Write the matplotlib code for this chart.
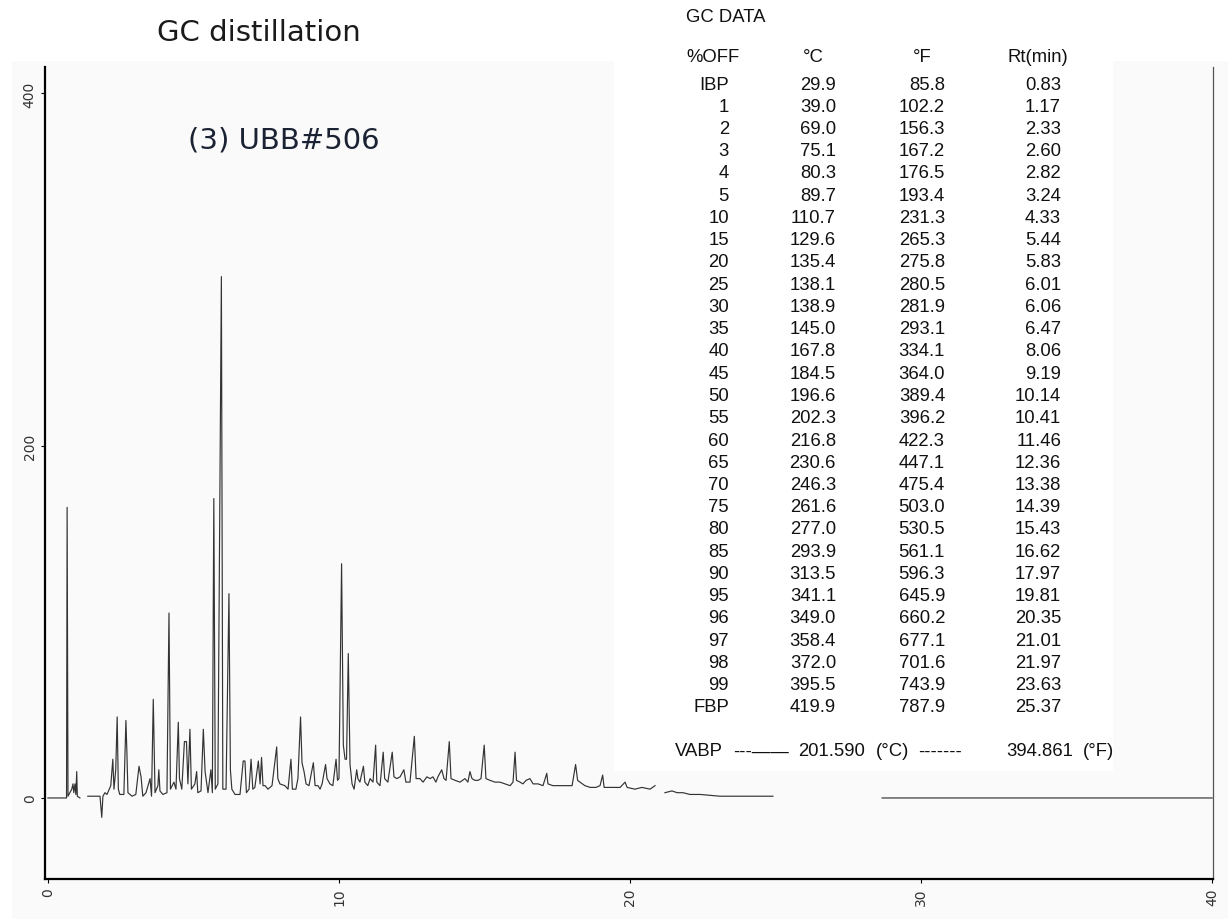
import numpy as np
import matplotlib
matplotlib.use('Agg')
import matplotlib.pyplot as plt
from matplotlib.patches import Rectangle

# chromatogram trace: retention time (min) and detector signal
# None marks places where the printed trace is broken
trace_rt = [0.0, 0.58, 0.64, 0.66, 0.69, 0.82, 0.86, 0.89, 0.93, 0.96, 0.99, 1.01, 1.10, None,
            1.37, 1.72, 1.79, 1.85, 1.89, 1.96, 2.03, 2.16, 2.23, 2.27, 2.33, 2.38, 2.42, 2.47,
            2.61, 2.68, 2.71, 2.75, 2.89, 3.02, 3.13, 3.20, 3.26, 3.37, 3.51, 3.56, 3.62, 3.68,
            3.78, 3.81, 3.85, 3.95, 4.09, 4.16, 4.21, 4.33, 4.40, 4.48, 4.52, 4.60, 4.69, 4.76,
            4.81, 4.88, 4.93, 5.05, 5.11, 5.15, 5.26, 5.34, 5.40, 5.50, 5.60, 5.65, 5.70, 5.75,
            5.84, 5.96, 6.01, 6.12, 6.22, 6.27, 6.32, 6.43, 6.53, 6.60, 6.71, 6.77, 6.82, 6.91,
            6.98, 7.04, 7.11, 7.23, 7.29, 7.34, 7.39, 7.46, 7.56, 7.70, 7.86, 7.90, 7.97, 8.14,
            8.25, 8.35, 8.40, 8.52, 8.59, 8.68, 8.73, 8.80, 8.87, 8.97, 9.12, 9.18, 9.28, 9.35,
            9.42, 9.54, 9.59, 9.69, 9.79, 9.90, 9.95, 10.00, 10.09, 10.15, 10.21, 10.26, 10.32,
            10.38, 10.45, 10.52, 10.61, 10.65, 10.72, 10.84, 10.89, 10.99, 11.07, 11.17, 11.26,
            11.30, 11.41, 11.52, 11.57, 11.68, 11.83, 11.89, 11.99, 12.10, 12.23, 12.30, 12.44,
            12.59, 12.65, 12.78, 12.89, 13.02, 13.13, 13.23, 13.33, 13.40, 13.53, 13.61, 13.68,
            13.79, 13.85, 13.99, 14.16, 14.33, 14.43, 14.50, 14.57, 14.67, 14.78, 14.88, 14.99,
            15.05, 15.19, 15.36, 15.53, 15.70, 15.88, 15.98, 16.05, 16.10, 16.22, 16.32, 16.43,
            16.56, 16.67, 16.84, 17.01, 17.14, 17.18, 17.35, 17.59, 17.84, 18.01, 18.13, 18.20,
            18.28, 18.45, 18.63, 18.83, 18.97, 19.06, 19.11, 19.24, 19.38, 19.55, 19.66, 19.83,
            19.90, 20.17, 20.41, 20.69, 20.86, None,
            21.20, 21.44, 21.62, 21.82, 22.06, 22.41, 23.09, 24.12, 24.91, None,
            28.66, 40.0]
trace_signal = [0, 0, 0, 165, 1, 5, 8, 3, 8, 2, 15, 1, 0, None,
                1, 1, 1, -11, 1, 3, 2, 7, 22, 5, 16, 46, 5, 2,
                2, 44, 28, 3, 1, 2, 18, 12, 1, 3, 11, 1, 56, 3,
                7, 16, 4, 2, 3, 105, 5, 9, 5, 43, 11, 5, 32, 32,
                8, 39, 5, 8, 15, 3, 4, 39, 15, 3, 16, 3, 170, 5,
                8, 296, 5, 5, 116, 16, 5, 2, 2, 2, 21, 21, 3, 5,
                22, 5, 6, 21, 8, 23, 7, 7, 5, 7, 29, 11, 8, 7,
                5, 22, 5, 5, 11, 46, 20, 15, 8, 7, 20, 7, 7, 5,
                8, 19, 11, 8, 7, 22, 10, 11, 133, 30, 22, 22, 82,
                19, 8, 5, 16, 11, 9, 18, 9, 7, 11, 9, 30,
                9, 7, 26, 11, 9, 26, 12, 11, 12, 16, 9, 9,
                35, 11, 11, 9, 12, 11, 12, 9, 12, 16, 11, 10,
                32, 11, 10, 9, 11, 9, 15, 11, 10, 10, 11, 30,
                11, 10, 9, 9, 8, 7, 9, 26, 10, 9, 8, 10,
                11, 8, 8, 7, 14, 8, 7, 7, 7, 7, 19, 10,
                9, 7, 6, 6, 7, 13, 6, 6, 6, 6, 6, 9,
                6, 5, 6, 5, 7, None,
                3, 4, 3, 3, 2, 2, 1, 1, 1, None,
                0, 0]

x_ticks = [0, 10, 20, 30, 40]
y_ticks = [0, 200, 400]

# GC DATA table
pct_off = ['IBP', '1', '2', '3', '4', '5', '10', '15', '20', '25', '30', '35', '40', '45', '50',
           '55', '60', '65', '70', '75', '80', '85', '90', '95', '96', '97', '98', '99', 'FBP']
temp_c = ['29.9', '39.0', '69.0', '75.1', '80.3', '89.7', '110.7', '129.6', '135.4', '138.1',
          '138.9', '145.0', '167.8', '184.5', '196.6', '202.3', '216.8', '230.6', '246.3',
          '261.6', '277.0', '293.9', '313.5', '341.1', '349.0', '358.4', '372.0', '395.5', '419.9']
temp_f = ['85.8', '102.2', '156.3', '167.2', '176.5', '193.4', '231.3', '265.3', '275.8',
          '280.5', '281.9', '293.1', '334.1', '364.0', '389.4', '396.2', '422.3', '447.1',
          '475.4', '503.0', '530.5', '561.1', '596.3', '645.9', '660.2', '677.1', '701.6',
          '743.9', '787.9']
rt_min = ['0.83', '1.17', '2.33', '2.60', '2.82', '3.24', '4.33', '5.44', '5.83', '6.01',
          '6.06', '6.47', '8.06', '9.19', '10.14', '10.41', '11.46', '12.36', '13.38', '14.39',
          '15.43', '16.62', '17.97', '19.81', '20.35', '21.01', '21.97', '23.63', '25.37']
vabp_c = '201.590'
vabp_f = '394.861'

W, H = 1228, 920


def fx(px):
    return px / W


def fy(py):
    return 1 - py / H


fig = plt.figure(figsize=(W / 100, H / 100), dpi=100)
fig.patch.set_facecolor('white')
# light grey print area and the white pasted-in table, kept under the axes
fig.patches.append(Rectangle((fx(12), 0), 1 - fx(12), fy(62), transform=fig.transFigure,
                             facecolor='#fafafa', edgecolor='none', zorder=-5))
fig.patches.append(Rectangle((fx(614), fy(772)), fx(1113) - fx(614), 1 - fy(772),
                             transform=fig.transFigure, facecolor='white', edgecolor='none',
                             zorder=-4))

ax = fig.add_axes([fx(45), fy(880), fx(1213) - fx(45), fy(68) - fy(880)])
ax.patch.set_visible(False)

rt = np.array([np.nan if v is None else v for v in trace_rt], dtype=float)
sig = np.array([np.nan if v is None else v for v in trace_signal], dtype=float)
ax.plot(rt, sig, color='#333333', lw=0.85)

ax.set_xlim(-0.1, 40.03)
ax.set_ylim(-46, 415)
ax.spines['top'].set_visible(False)
ax.spines['left'].set_linewidth(1.6)
ax.spines['bottom'].set_linewidth(1.6)
ax.spines['right'].set_linewidth(0.9)
ax.spines['right'].set_color('#555555')
ax.set_xticks(x_ticks)
ax.set_xticklabels([str(v) for v in x_ticks], rotation=90, fontsize=10, color='#333333')
ax.set_yticks(y_ticks)
ax.set_yticklabels([str(v) for v in y_ticks], rotation=90, va='center', fontsize=10,
                   color='#333333')
ax.tick_params(length=3, width=0.8, pad=3)

fig.text(fx(259), fy(33), 'GC distillation', ha='center', va='center', fontsize=21,
         color='#1a1a1a')
fig.text(fx(284), fy(141), '(3) UBB#506', ha='center', va='center', fontsize=21,
         color='#1b2233')

tf = dict(family=['Liberation Sans', 'DejaVu Sans'], fontsize=13.3, color='#111111',
          va='center')
fig.text(fx(686), fy(18), 'GC DATA', ha='left', **tf)
fig.text(fx(686), fy(57), '%OFF', ha='left', **tf)
fig.text(fx(813), fy(57), '°C', ha='center', **tf)
fig.text(fx(922), fy(57), '°F', ha='center', **tf)
fig.text(fx(1038), fy(57), 'Rt(min)', ha='center', **tf)
for i in range(len(pct_off)):
    y = fy(85 + i * 22.25)
    fig.text(fx(729), y, pct_off[i], ha='right', **tf)
    fig.text(fx(836), y, temp_c[i], ha='right', **tf)
    fig.text(fx(945), y, temp_f[i], ha='right', **tf)
    fig.text(fx(1061), y, rt_min[i], ha='right', **tf)

yv = fy(752)
fig.text(fx(675), yv, 'VABP', ha='left', **tf)
fig.text(fx(733), yv, '---——', ha='left', **tf)
fig.text(fx(798), yv, vabp_c, ha='left', **tf)
fig.text(fx(876), yv, '(°C)', ha='left', **tf)
fig.text(fx(918), yv, '-------', ha='left', **tf)
fig.text(fx(1006), yv, vabp_f, ha='left', **tf)
fig.text(fx(1083), yv, '(°F)', ha='left', **tf)

fig.savefig('out.png', dpi=100)
